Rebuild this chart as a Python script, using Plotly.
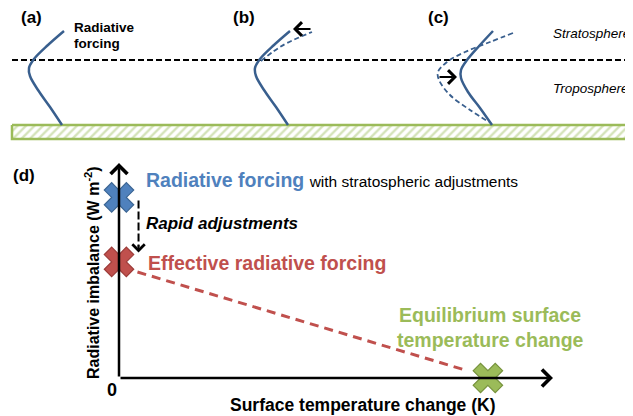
import plotly.graph_objects as go

W, H = 633, 416
OFF = 8  # page body margin in the browser
FONT = "Liberation Sans, Arial, sans-serif"

# ---- Panels (a)-(c): schematic temperature profiles ----
# temperature offset (schematic units) vs altitude above surface (schematic units)
prof_alt = [94, 80, 66, 57, 49, 35, 18, 0]
prof_T = [36, 20, 6, 1, 2, 10, 22, 34]
strat_adj_alt = [64, 74, 82, 93]
strat_adj_T = [7, 20, 33, 58]
warm_alt = [94, 80, 65, 55, 47, 33, 17, 0]
warm_T = [35, 22, 9, 3, 3, 10, 22, 34]
orig_c_alt = [92, 83, 73, 63, 53, 45, 30, 15, 3]
orig_c_T = [55, 32, 7, -11, -20, -19, -8, 12, 31]
tropopause_alt = 65

# ---- Panel (d): forcing / feedback diagram ----
point_names = ["Radiative forcing", "Effective radiative forcing",
               "Equilibrium surface temperature change"]
temp_change = [0.0, 0.0, 3.4]      # K
imbalance = [4.2, 2.7, 0.0]        # W m-2
point_colors = ["#4f81bd", "#c0504d", "#9bbb59"]
point_edges = ["#3b6593", "#9d3b38", "#76923c"]

# layout positions (pixels)
panel_x0 = [28, 254, 458]
ground_y = 125
PROF_COL = "#395f8e"

fig = go.Figure()

def py(alt_list):
    return [ground_y - a for a in alt_list]

# ground (hatched)
fig.add_trace(go.Scatter(
    x=[12, 640, 640, 12, 12], y=[ground_y, ground_y, ground_y + 14, ground_y + 14, ground_y],
    mode="lines", fill="toself", line=dict(color="#9bbb59", width=2.5),
    fillpattern=dict(shape="/", fgcolor="#a8c672", bgcolor="white", size=6, solidity=0.4),
    hoverinfo="skip", showlegend=False, xaxis="x", yaxis="y"))

# tropopause
fig.add_trace(go.Scatter(
    x=[12, 633], y=py([tropopause_alt] * 2), mode="lines",
    line=dict(color="black", width=2, dash="6px,3px"),
    hoverinfo="skip", showlegend=False, xaxis="x", yaxis="y"))

# (a) profile
fig.add_trace(go.Scatter(
    x=[panel_x0[0] + t for t in prof_T], y=py(prof_alt), mode="lines",
    line=dict(color=PROF_COL, width=2.5, shape="spline"),
    hoverinfo="skip", showlegend=False, xaxis="x", yaxis="y"))
# (b) profiles
fig.add_trace(go.Scatter(
    x=[panel_x0[1] + t for t in strat_adj_T], y=py(strat_adj_alt), mode="lines",
    line=dict(color=PROF_COL, width=1.8, dash="5px,3px", shape="spline"),
    hoverinfo="skip", showlegend=False, xaxis="x", yaxis="y"))
fig.add_trace(go.Scatter(
    x=[panel_x0[1] + t for t in prof_T], y=py(prof_alt), mode="lines",
    line=dict(color=PROF_COL, width=2.5, shape="spline"),
    hoverinfo="skip", showlegend=False, xaxis="x", yaxis="y"))
# (c) profiles
fig.add_trace(go.Scatter(
    x=[panel_x0[2] + t for t in orig_c_T], y=py(orig_c_alt), mode="lines",
    line=dict(color=PROF_COL, width=1.8, dash="5px,3px", shape="spline"),
    hoverinfo="skip", showlegend=False, xaxis="x", yaxis="y"))
fig.add_trace(go.Scatter(
    x=[panel_x0[2] + t for t in warm_T], y=py(warm_alt), mode="lines",
    line=dict(color=PROF_COL, width=2.5, shape="spline"),
    hoverinfo="skip", showlegend=False, xaxis="x", yaxis="y"))

# ---- panel (d) traces ----
# feedback line from ERF to ECS (trimmed near markers)
x0, y0 = temp_change[1], imbalance[1]
x1, y1 = temp_change[2], imbalance[2]
f0, f1 = 0.05, 0.945
fig.add_trace(go.Scatter(
    x=[x0 + f0 * (x1 - x0), x0 + f1 * (x1 - x0)],
    y=[y0 + f0 * (y1 - y0) - 0.1, y0 + f1 * (y1 - y0) + 0.02],
    mode="lines", line=dict(color="#c0504d", width=3, dash="9px,6px"),
    hoverinfo="skip", showlegend=False, xaxis="x2", yaxis="y2", cliponaxis=False))

# rapid adjustment dashed shaft
adj_x = 0.18
fig.add_trace(go.Scatter(
    x=[adj_x, adj_x], y=[imbalance[0] - 0.07, imbalance[1] + 0.35],
    mode="lines", line=dict(color="black", width=2, dash="8px,3px"),
    hoverinfo="skip", showlegend=False, xaxis="x2", yaxis="y2", cliponaxis=False))

annotations = []
X_MAX, Y_MAX = 4.0, 5.0
# axes with arrows
annotations.append(dict(x=X_MAX, y=0, ax=0, ay=0, xref="x2", yref="y2", axref="x2", ayref="y2",
                        text="", showarrow=True, arrowhead=4, arrowsize=1.3, arrowwidth=2.5,
                        arrowcolor="black", standoff=0))
annotations.append(dict(x=0, y=Y_MAX, ax=0, ay=0, xref="x2", yref="y2", axref="x2", ayref="y2",
                        text="", showarrow=True, arrowhead=4, arrowsize=1.3, arrowwidth=2.5,
                        arrowcolor="black", standoff=0))
# rapid adjustment arrow head
annotations.append(dict(x=adj_x, y=imbalance[1] + 0.22, ax=adj_x, ay=imbalance[1] + 0.42,
                        xref="x2", yref="y2", axref="x2", ayref="y2",
                        text="", showarrow=True, arrowhead=4, arrowsize=1.2, arrowwidth=2,
                        arrowcolor="black", standoff=0))
# (b), (c) arrows
annotations.append(dict(x=panel_x0[1] + 39, y=ground_y - 96, ax=panel_x0[1] + 58, ay=ground_y - 96,
                        xref="x", yref="y", axref="x", ayref="y", text="", showarrow=True,
                        arrowhead=4, arrowsize=1.2, arrowwidth=2.2, arrowcolor="black", standoff=0))
annotations.append(dict(x=panel_x0[2] - 1, y=ground_y - 48, ax=panel_x0[2] - 20, ay=ground_y - 48,
                        xref="x", yref="y", axref="x", ayref="y", text="", showarrow=True,
                        arrowhead=4, arrowsize=1.2, arrowwidth=2.2, arrowcolor="black", standoff=0))

fig.add_trace(go.Scatter(
    x=temp_change, y=imbalance, mode="markers", text=point_names,
    marker=dict(symbol="x", size=26, color=point_colors,
                line=dict(color=point_edges, width=1.2)),
    hoverinfo="text", showlegend=False, xaxis="x2", yaxis="y2", cliponaxis=False))

def txt(x, y, s, size, color="black", xa="left", ya="middle", angle=0):
    annotations.append(dict(x=x, y=y, xref="x", yref="y", text=s, showarrow=False,
                            xanchor=xa, yanchor=ya, textangle=angle,
                            font=dict(family=FONT, size=size, color=color)))

txt(31, 17, "<b>(a)</b>", 17, xa="center")
txt(244, 17, "<b>(b)</b>", 17, xa="center")
txt(438, 17, "<b>(c)</b>", 17, xa="center")
txt(72, 27, "<b>Radiative</b>", 13.5)
txt(72, 43, "<b>forcing</b>", 13.5)
txt(551, 33, "<i>Stratosphere</i>", 13.5)
txt(551, 88, "<i>Troposphere</i>", 13.5)
txt(24, 175, "<b>(d)</b>", 17, xa="center")
txt(144, 180, "<b>Radiative forcing</b> <span style='color:#000000;font-size:15.5px'>with stratospheric adjustments</span>",
    19.5, color="#4f81bd")
txt(144, 223, "<b><i>Rapid adjustments</i></b>", 17)
txt(146, 263, "<b>Effective radiative forcing</b>", 19.5, color="#c0504d")
txt(490, 315, "<b>Equilibrium surface</b>", 19.5, color="#9bbb59", xa="center")
txt(490, 340, "<b>temperature change</b>", 19.5, color="#9bbb59", xa="center")
txt(112, 390, "<b>0</b>", 18, xa="center")
txt(363, 405, "<b>Surface temperature change (K)</b>", 17.5, xa="center")
txt(92, 273, "<b>Radiative imbalance (W m<sup>-2</sup>)</b>", 16, xa="center", angle=-90)

hidden = dict(visible=False, showgrid=False, zeroline=False, fixedrange=True)
PW, PH = W - OFF, H - OFF
fig.update_layout(
    width=PW, height=PH, margin=dict(l=0, r=0, t=0, b=0),
    paper_bgcolor="white", plot_bgcolor="rgba(0,0,0,0)",
    font=dict(family=FONT),
    xaxis=dict(range=[OFF, W], domain=[0, 1], **hidden),
    yaxis=dict(range=[H, OFF], domain=[0, 1], **hidden),
    xaxis2=dict(range=[0, X_MAX], domain=[(119 - OFF) / PW, (553 - OFF) / PW], anchor="y2", **hidden),
    yaxis2=dict(range=[0, Y_MAX], domain=[(H - 378) / PH, (H - 163) / PH], anchor="x2", **hidden),
    annotations=annotations,
)

fig.write_html("out.html")
